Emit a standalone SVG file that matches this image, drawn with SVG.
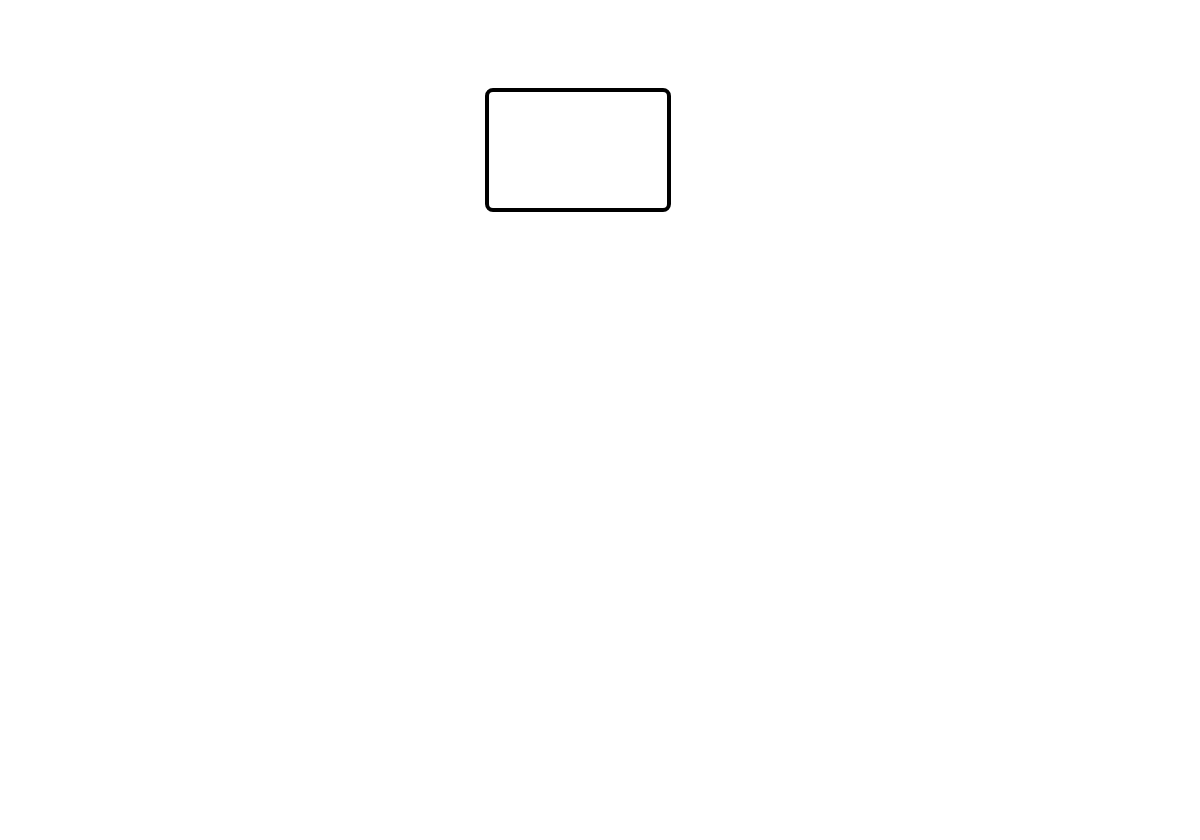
<svg xmlns="http://www.w3.org/2000/svg" width="1200" height="840" viewBox="0 0 1200 840">
<style>
.node rect { fill: #ffffff; stroke: #000000; stroke-width: 4; }
</style>
<rect x="0" y="0" width="1200" height="840" fill="#ffffff"/>
<g id="connectors"></g>
<g id="node1" class="node">
<rect x="487" y="90" width="182" height="120" rx="6" ry="6"/>
</g>
</svg>
